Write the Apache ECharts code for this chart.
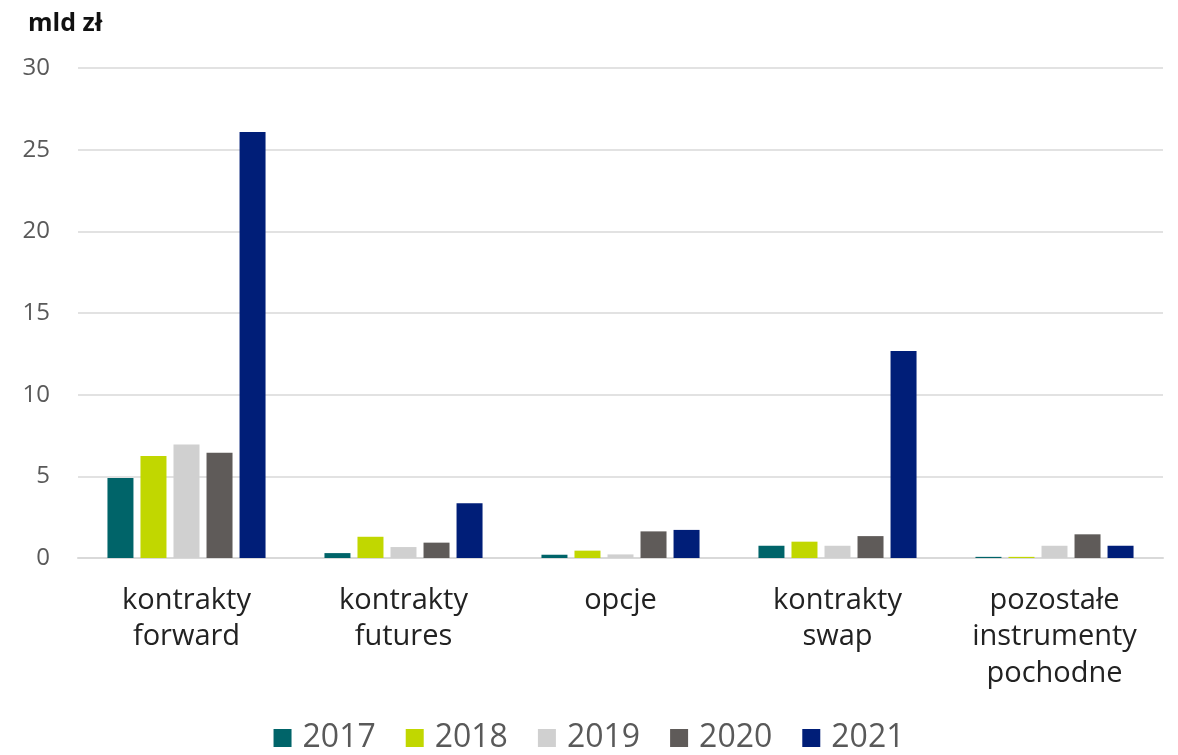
<!DOCTYPE html>
<html>
<head>
<meta charset="utf-8">
<script src="https://cdn.jsdelivr.net/npm/echarts@6/dist/echarts.min.js"></script>
<style>
  html, body { margin: 0; padding: 0; background: #fff; }
  #main { width: 1178px; height: 755px; }
</style>
</head>
<body>
<div id="main"></div>
<script>
// kategorie i dane (mld zł)
var categories = ['kontrakty\nforward', 'kontrakty\nfutures', 'opcje', 'kontrakty\nswap', 'pozostałe\ninstrumenty\npochodne'];
var years = ['2017', '2018', '2019', '2020', '2021'];
var colors = ['#006469', '#c1d700', '#d0d0d0', '#5f5b59', '#001e78'];
var v2017 = [4.9, 0.3, 0.2, 0.75, 0.07];
var v2018 = [6.25, 1.3, 0.45, 1.0, 0.07];
var v2019 = [6.95, 0.67, 0.22, 0.75, 0.75];
var v2020 = [6.45, 0.94, 1.63, 1.34, 1.45];
var v2021 = [26.08, 3.35, 1.72, 12.67, 0.75];
var seriesValues = [v2017, v2018, v2019, v2020, v2021];
var yTicks = [0, 5, 10, 15, 20, 25, 30];

var font = 'Open Sans';

var option = {
    animation: false,
    title: {
        text: 'mld zł',
        left: 23,
        top: 6,
        textStyle: { fontFamily: font, fontSize: 25, fontWeight: 'bold', color: '#111' }
    },
    legend: {
        bottom: -4,
        left: 'center',
        itemWidth: 18,
        itemHeight: 18,
        itemGap: 30,
        icon: 'rect',
        textStyle: { fontFamily: font, fontSize: 32, color: '#595959', padding: [0, 0, 0, 6] },
        data: years
    },
    grid: { left: 78, right: 15, top: 68, bottom: 197, containLabel: false },
    xAxis: {
        type: 'category',
        data: categories,
        axisLine: { lineStyle: { color: '#d9d9d9', width: 2 } },
        axisTick: { show: false },
        axisLabel: {
            fontFamily: font, fontSize: 29, color: '#222', lineHeight: 36.5, margin: 24,
            interval: 0
        }
    },
    yAxis: {
        type: 'value',
        min: yTicks[0],
        max: yTicks[yTicks.length - 1],
        interval: 5,
        axisLine: { show: false },
        axisTick: { show: false },
        splitLine: { lineStyle: { color: '#d9d9d9', width: 1.5 } },
        axisLabel: { fontFamily: font, fontSize: 24, color: '#595959', margin: 28 }
    },
    series: years.map(function (y, i) {
        return {
            name: y,
            type: 'bar',
            data: seriesValues[i],
            barWidth: 26,
            barGap: '27%',
            itemStyle: { color: colors[i] }
        };
    })
};

var chart = echarts.init(document.getElementById('main'));
chart.setOption(option);
</script>
</body>
</html>
